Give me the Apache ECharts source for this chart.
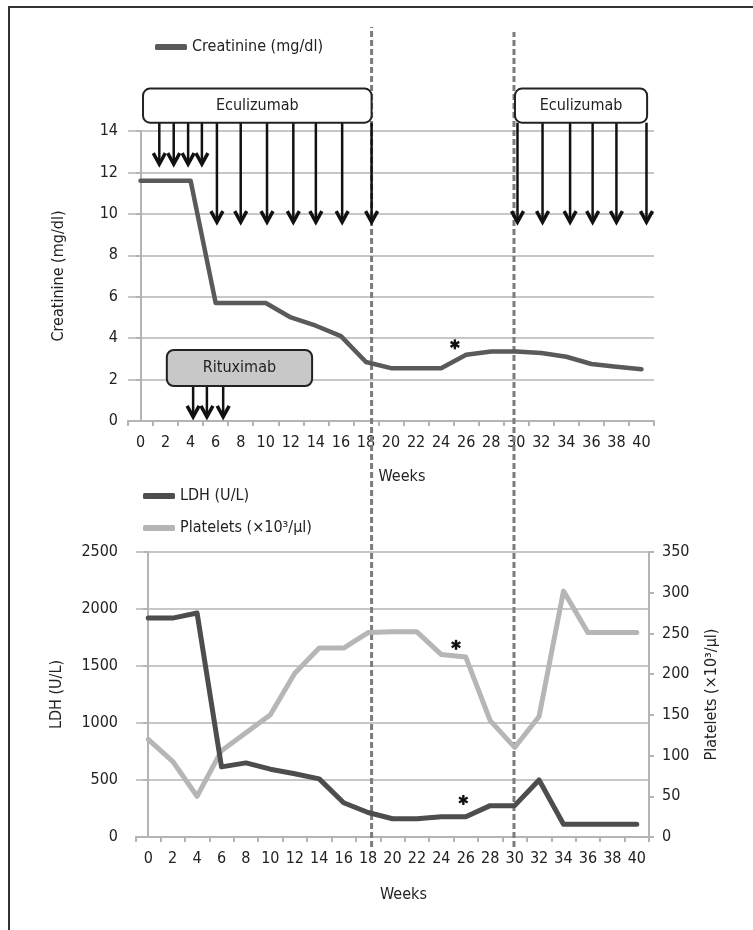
<!DOCTYPE html>
<html><head><meta charset="utf-8">
<script src="https://cdn.jsdelivr.net/npm/echarts@6/dist/echarts.min.js"></script>
<style>
html,body{margin:0;padding:0;background:#fff;}
#frame{position:absolute;left:8px;top:6px;width:760px;height:940px;border-left:2px solid #333;border-top:2px solid #333;}
#c{position:absolute;left:0;top:0;width:753px;height:930px;}
</style></head><body>
<div id="frame"></div><div id="c"></div>
<script>
// ---- data ----
const weekLabels = ['0','2','4','6','8','10','12','14','16','18','20','22','24','26','28','30','32','34','36','38','40'];
const creatinine = [11.6,11.6,11.6,5.7,5.7,5.7,5.0,4.6,4.1,2.85,2.55,2.55,2.55,3.2,3.35,3.35,3.28,3.1,2.75,2.62,2.5];
const ldh = [1920,1920,1965,615,650,595,555,510,300,215,160,160,178,178,275,275,500,112,112,112,112];
const platelets = [120,93,50,106,128,150,201,232,232,251,252,252,224,221,143,110,148,302,251,251,251];
const eculizumabWeekly = [1.5,2.65,3.8,4.9];
const eculizumabPhase1 = [6.1,8.0,10.1,12.2,14.0,16.1,18.45];
const eculizumabPhase2 = [30.1,32.1,34.3,36.1,38.0,40.4];
const rituximabDoses = [4.2,5.3,6.6];
const eculizumabPeriods = [[0.2,18.45],[29.9,40.45]];
const rituximabPeriod = [[2.1,13.7]];
const transitionWeeks = [18.45,29.82];
const creatinineStar = [[25.1,3.7]];
const plateletStar = [[25.2,236]];
const ldhStar = [[25.8,325]];

const FONT = '"Liberation Sans Narrow","DejaVu Sans Condensed","Roboto Condensed",sans-serif';
const TXT = '#222';
const GRID = '#b4b4b4';

function arrowItem(params, api){
  const a = api.coord([api.value(0), api.value(1)]);
  const b = api.coord([api.value(0), api.value(2)]);
  return {type:'group', children:[
    {type:'line', shape:{x1:a[0],y1:a[1],x2:b[0],y2:b[1]-2}, style:{stroke:'#111',lineWidth:2.5}},
    {type:'polyline', shape:{points:[[b[0]-6,b[1]-11],[b[0],b[1]],[b[0]+6,b[1]-11]]},
      style:{stroke:'#111',lineWidth:3.5,fill:null,lineJoin:'miter'}}
  ]};
}
function boxItem(labels, fill){
  return function(params, api){
    const p0 = api.coord([api.value(0), api.value(2)]);
    const p1 = api.coord([api.value(1), api.value(3)]);
    return {type:'rect', shape:{x:p0[0],y:p0[1],width:p1[0]-p0[0],height:p1[1]-p0[1],r:7},
      style:{fill:fill,stroke:'#222',lineWidth:2},
      textContent:{style:{text:labels[params.dataIndex],fill:TXT,fontSize:16,fontFamily:FONT}},
      textConfig:{position:'inside'}};
  };
}
function starItem(params, api){
  const c = api.coord([api.value(0), api.value(1)]);
  const r = 5, ch = [];
  for (const ang of [90,30,150]) {
    const t = ang*Math.PI/180;
    ch.push({type:'line', shape:{x1:c[0]-r*Math.cos(t),y1:c[1]-r*Math.sin(t),x2:c[0]+r*Math.cos(t),y2:c[1]+r*Math.sin(t)},
      style:{stroke:'#111',lineWidth:2.4}});
  }
  return {type:'group', children:ch};
}
function vlineItem(params, api){
  const a = api.coord([api.value(0), api.value(1)]);
  const b = api.coord([api.value(0), api.value(2)]);
  return {type:'line', shape:{x1:a[0],y1:a[1],x2:b[0],y2:b[1]},
    style:{stroke:'#7c7c7c',lineWidth:3,lineDash:[6,3]}};
}

const plain = v => String(v);
const catAxisBase = {
  type:'category', data:weekLabels, boundaryGap:true,
  axisLine:{lineStyle:{color:GRID,width:2}},
  axisTick:{show:true,length:5,lineStyle:{color:GRID,width:2}},
  axisLabel:{color:TXT,fontSize:16,fontFamily:FONT,margin:14,interval:0},
  name:'Weeks', nameLocation:'middle', nameGap:48,
  nameTextStyle:{color:TXT,fontSize:16,fontFamily:FONT,padding:[0,0,0,22]}
};
const hiddenVal = {type:'value',min:-1,max:41,show:false};

const option = {
  animation:false,
  textStyle:{fontFamily:FONT},
  grid:[
    {left:128, top:131, width:526, height:290},
    {left:136, top:552, width:513, height:285},
    {left:128, top:27, width:526, height:820}
  ],
  xAxis:[
    Object.assign({gridIndex:0}, catAxisBase),
    Object.assign({gridIndex:0, position:'top'}, hiddenVal),
    Object.assign({gridIndex:1}, catAxisBase, {nameGap:50}),
    Object.assign({gridIndex:1, position:'top'}, hiddenVal),
    Object.assign({gridIndex:2}, hiddenVal)
  ],
  yAxis:[
    {gridIndex:0, type:'value', min:0, max:14, interval:2,
     axisLine:{show:true,lineStyle:{color:GRID,width:2}},
     axisTick:{show:true,length:5,lineStyle:{color:GRID,width:2}},
     axisLabel:{color:TXT,fontSize:16,fontFamily:FONT,margin:10,formatter:plain},
     splitLine:{lineStyle:{color:GRID,width:1.5}},
     name:'Creatinine (mg/dl)', nameLocation:'middle', nameGap:61,
     nameTextStyle:{color:TXT,fontSize:16,fontFamily:FONT}},
    {gridIndex:1, type:'value', min:0, max:2500, interval:500,
     axisLine:{show:true,lineStyle:{color:GRID,width:2}},
     axisTick:{show:true,length:5,lineStyle:{color:GRID,width:2}},
     axisLabel:{color:TXT,fontSize:16,fontFamily:FONT,margin:18,formatter:plain},
     splitLine:{lineStyle:{color:GRID,width:1.5}},
     name:'LDH (U/L)', nameLocation:'middle', nameGap:71,
     nameTextStyle:{color:TXT,fontSize:16,fontFamily:FONT}},
    {gridIndex:1, type:'value', position:'right', min:0, max:350, interval:50,
     axisLine:{show:true,lineStyle:{color:GRID,width:2}},
     axisTick:{show:true,length:5,lineStyle:{color:GRID,width:2}},
     axisLabel:{color:TXT,fontSize:16,fontFamily:FONT,margin:13,formatter:plain},
     splitLine:{show:false},
     name:'Platelets (×10³/μl)', nameLocation:'middle', nameGap:55,
     nameTextStyle:{color:TXT,fontSize:16,fontFamily:FONT}},
    {gridIndex:2, type:'value', min:0, max:1, show:false}
  ],
  legend:[
    {data:['Creatinine (mg/dl)'], left:150, top:34, icon:'roundRect', itemWidth:32, itemHeight:6,
     textStyle:{color:TXT,fontSize:16,fontFamily:FONT}, selectedMode:false},
    {data:['LDH (U/L)','Platelets (×10³/μl)'], orient:'vertical', left:138, top:483, icon:'roundRect',
     itemWidth:32, itemHeight:6, itemGap:16,
     textStyle:{color:TXT,fontSize:16,fontFamily:FONT}, selectedMode:false}
  ],
  series:[
    {type:'custom', xAxisIndex:4, yAxisIndex:3, z:3, clip:false,
     data:transitionWeeks.map((w,i)=>[w,0,i===0?1:0.994]), renderItem:vlineItem},
    {name:'Creatinine (mg/dl)', type:'line', xAxisIndex:0, yAxisIndex:0, data:creatinine,
     symbol:'none', z:4, lineStyle:{color:'#5a5a5a',width:4.5,cap:'round',join:'round'}, itemStyle:{color:'#5a5a5a'}},
    {name:'Platelets (×10³/μl)', type:'line', xAxisIndex:2, yAxisIndex:2, data:platelets,
     symbol:'none', z:4, lineStyle:{color:'#b6b6b6',width:5,cap:'round',join:'round'}, itemStyle:{color:'#b6b6b6'}},
    {name:'LDH (U/L)', type:'line', xAxisIndex:2, yAxisIndex:1, data:ldh,
     symbol:'none', z:5, lineStyle:{color:'#4d4d4d',width:5,cap:'round',join:'round'}, itemStyle:{color:'#4d4d4d'}},
    {type:'custom', xAxisIndex:1, yAxisIndex:0, z:6, clip:false,
     data:eculizumabWeekly.map(w=>[w,14.4,12.4]), renderItem:arrowItem},
    {type:'custom', xAxisIndex:1, yAxisIndex:0, z:6, clip:false,
     data:eculizumabPhase1.concat(eculizumabPhase2).map(w=>[w,14.4,9.6]), renderItem:arrowItem},
    {type:'custom', xAxisIndex:1, yAxisIndex:0, z:6, clip:false,
     data:rituximabDoses.map(w=>[w,1.69,0.2]), renderItem:arrowItem},
    {type:'custom', xAxisIndex:1, yAxisIndex:0, z:7, clip:false,
     data:eculizumabPeriods.map(p=>[p[0],p[1],16.05,14.4]),
     renderItem:boxItem(['Eculizumab','Eculizumab'],'#fff')},
    {type:'custom', xAxisIndex:1, yAxisIndex:0, z:7, clip:false,
     data:rituximabPeriod.map(p=>[p[0],p[1],3.43,1.69]),
     renderItem:boxItem(['Rituximab'],'#c8c8c8')},
    {type:'custom', xAxisIndex:1, yAxisIndex:0, z:7, clip:false, data:creatinineStar, renderItem:starItem},
    {type:'custom', xAxisIndex:3, yAxisIndex:2, z:7, clip:false, data:plateletStar, renderItem:starItem},
    {type:'custom', xAxisIndex:3, yAxisIndex:1, z:7, clip:false, data:ldhStar, renderItem:starItem}
  ]
};
const chart = echarts.init(document.getElementById('c'), null, {renderer:'canvas'});
chart.setOption(option);
</script>
</body></html>
